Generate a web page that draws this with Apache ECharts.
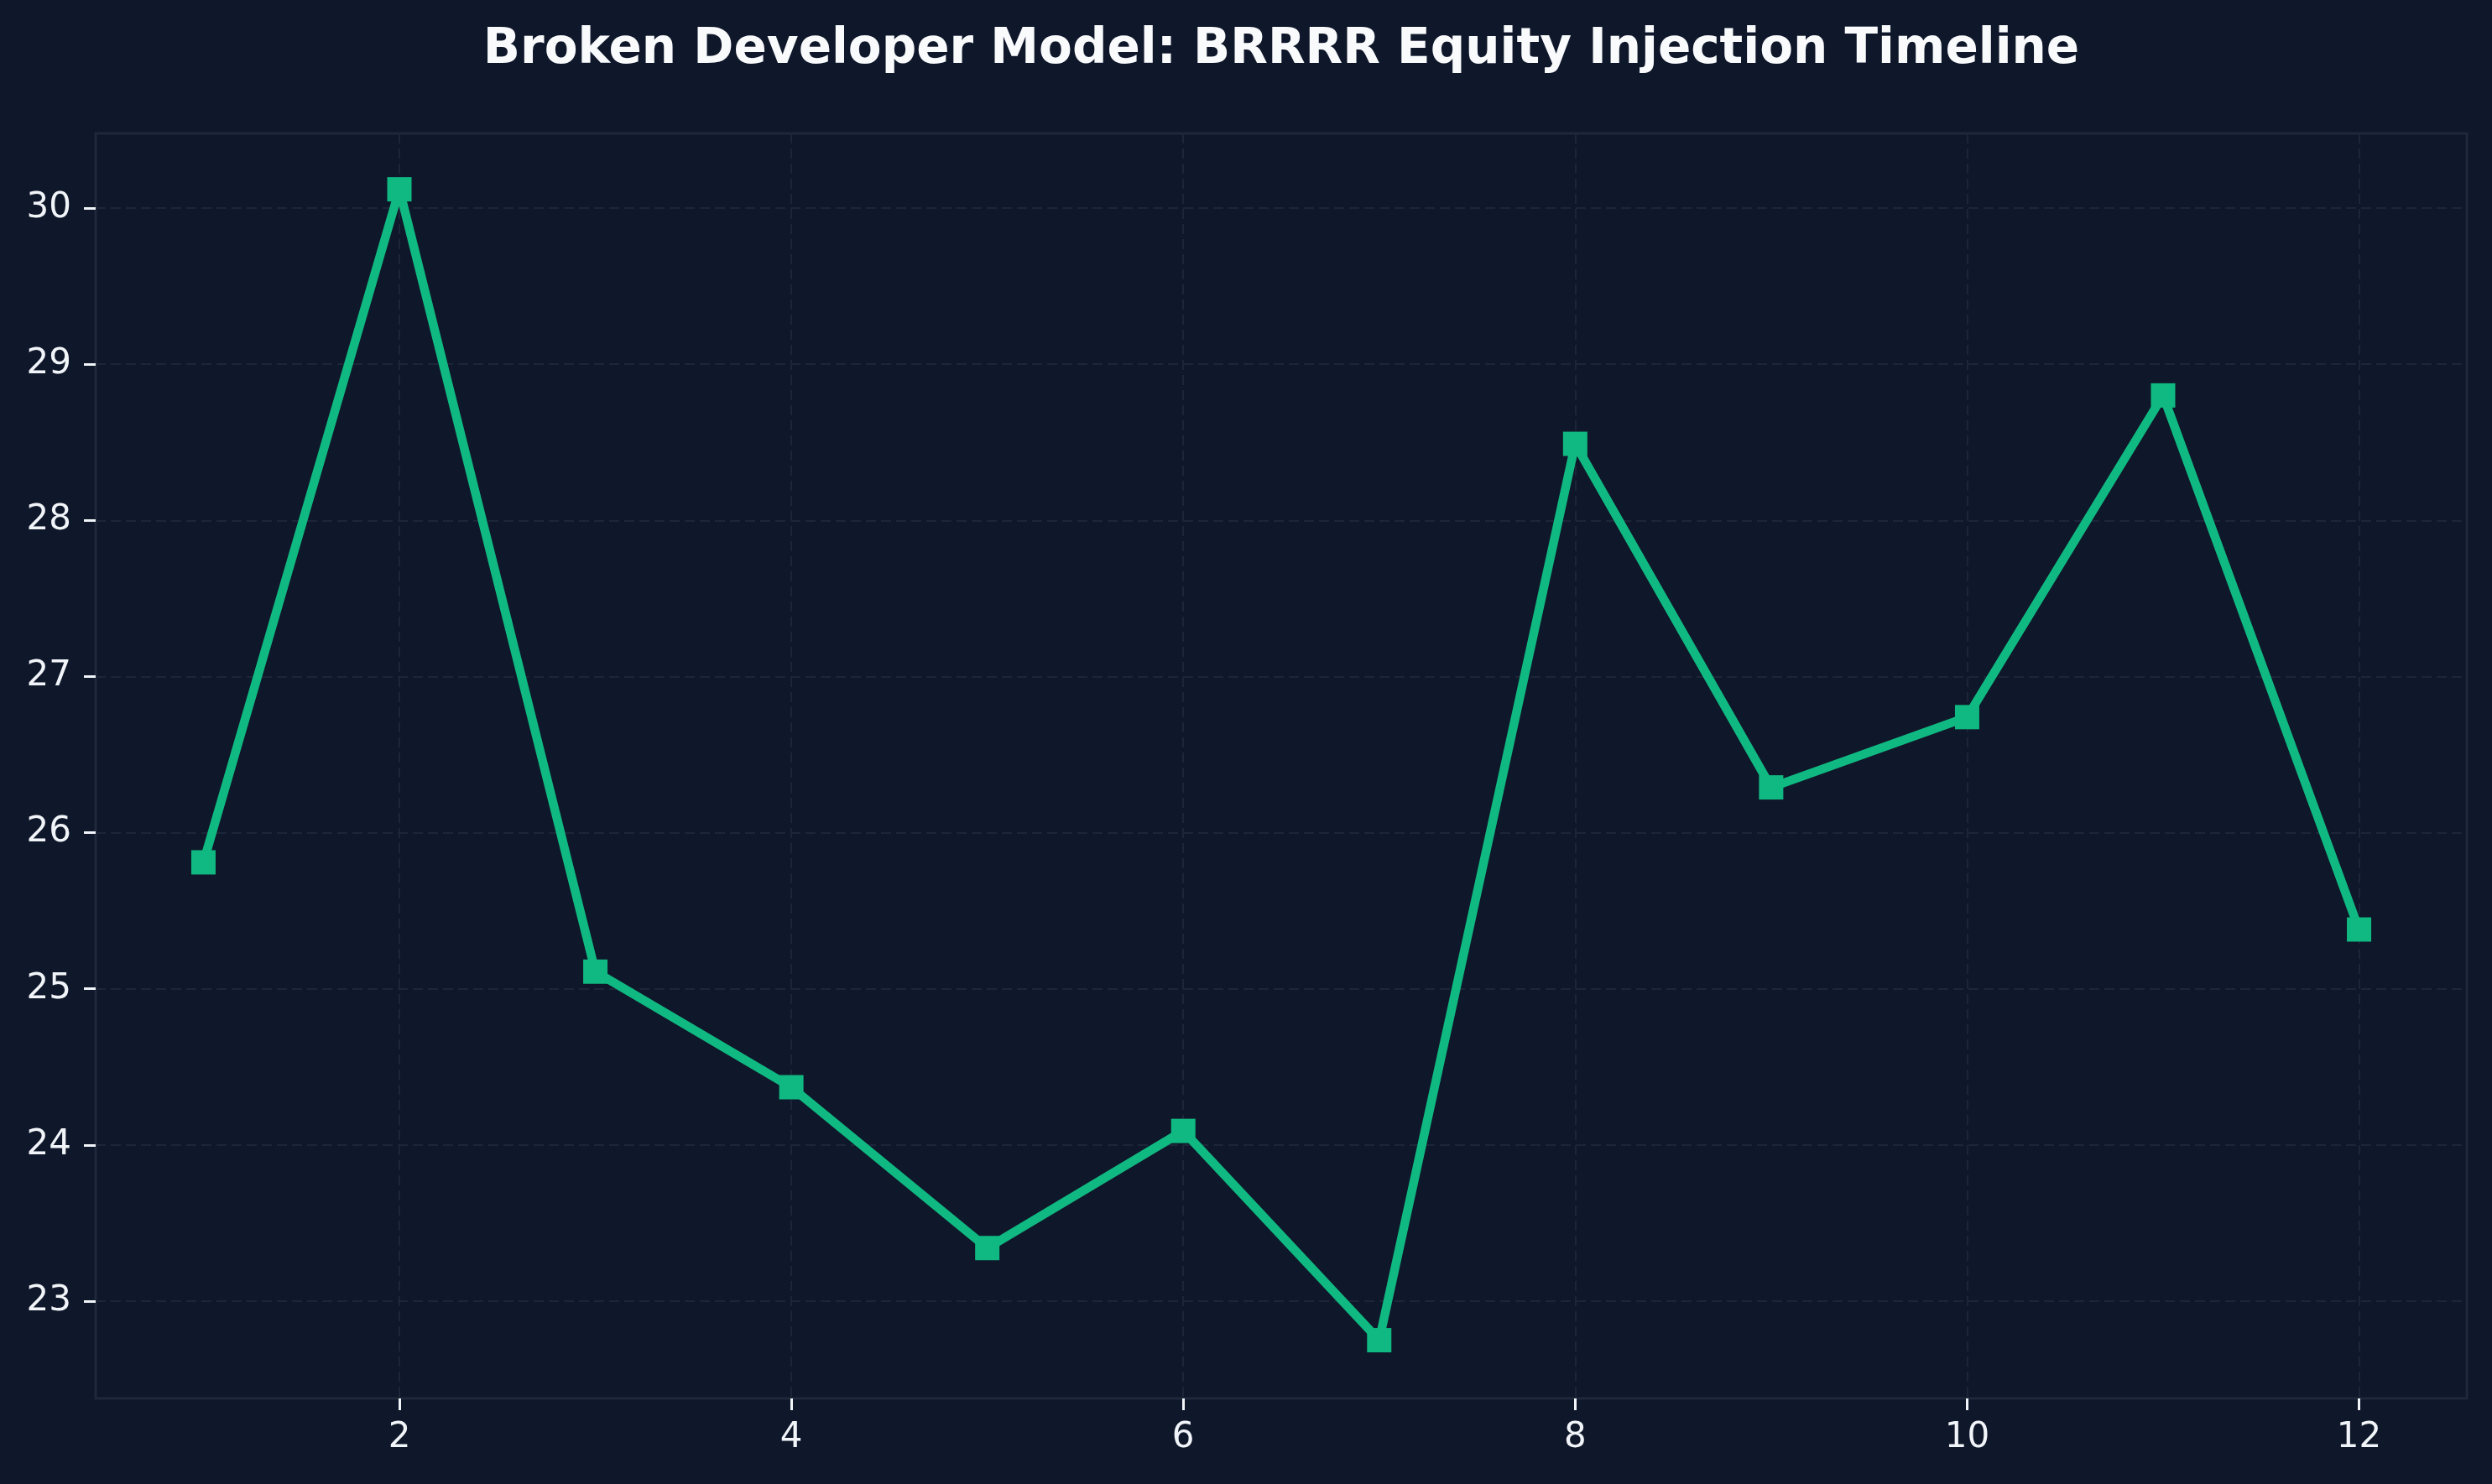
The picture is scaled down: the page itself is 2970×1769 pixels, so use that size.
<!DOCTYPE html>
<html>
<head>
<meta charset="utf-8">
<title>BRRRR Equity Injection Timeline</title>
<script src="https://cdn.jsdelivr.net/npm/echarts@6/dist/echarts.min.js"></script>
<style>
  html, body { margin: 0; padding: 0; background: #0f172a; }
  #chart { width: 2970px; height: 1769px; }
</style>
</head>
<body>
<div id="chart"></div>
<script>
// 数据
const periods = [1, 2, 3, 4, 5, 6, 7, 8, 9, 10, 11, 12]
const equity = [25.81, 30.12, 25.11, 24.37, 23.34, 24.09, 22.75, 28.49, 26.29, 26.74, 28.80, 25.38]
const xTicks = [2, 4, 6, 8, 10, 12]
const yTicks = [23, 24, 25, 26, 27, 28, 29, 30]

let chart = echarts.init(document.getElementById('chart'), null, { renderer: 'canvas' })

const gridColor = '#1c2638'
const textColor = '#f1f5f9'
const lineColor = '#10b981'

let option = {
  backgroundColor: '#0f172a',
  animation: false,
  title: {
    text: 'Broken Developer Model: BRRRR Equity Injection Timeline',
    left: 1522,
    top: 26,
    textAlign: 'center',
    textStyle: {
      color: '#f8fafc',
      fontFamily: 'DejaVu Sans',
      fontWeight: 'bold',
      fontSize: 58,
    },
  },
  grid: {
    left: 114,
    right: 30,
    top: 159,
    bottom: 102,
    show: true,
    borderColor: '#1e293b',
    borderWidth: 3,
    backgroundColor: 'transparent',
  },
  xAxis: {
    type: 'value',
    min: 0.45,
    max: 12.55,
    axisLine: { show: false },
    axisTick: {
      show: true,
      length: 14,
      customValues: xTicks,
      lineStyle: { color: textColor, width: 3 },
    },
    axisLabel: {
      customValues: xTicks,
      margin: 26,
      color: textColor,
      fontFamily: 'DejaVu Sans',
      fontSize: 42,
    },
    splitLine: {
      show: true,
      lineStyle: { color: gridColor, width: 2, type: [12, 6] },
    },
  },
  yAxis: {
    type: 'value',
    min: 22.377,
    max: 30.478,
    axisLine: { show: false },
    axisTick: {
      show: true,
      length: 14,
      customValues: yTicks,
      lineStyle: { color: textColor, width: 3 },
    },
    axisLabel: {
      customValues: yTicks,
      margin: 29,
      color: textColor,
      fontFamily: 'DejaVu Sans',
      fontSize: 42,
    },
    splitLine: {
      show: true,
      lineStyle: { color: gridColor, width: 2, type: [12, 6] },
    },
  },
  series: [
    {
      name: 'Equity',
      type: 'line',
      data: periods.map((p, i) => [p, equity[i]]),
      symbol: 'rect',
      symbolSize: 29,
      showAllSymbol: true,
      lineStyle: { color: lineColor, width: 10.5 },
      itemStyle: { color: lineColor },
      z: 5,
    },
  ],
}

chart.setOption(option, true)
</script>
</body>
</html>
